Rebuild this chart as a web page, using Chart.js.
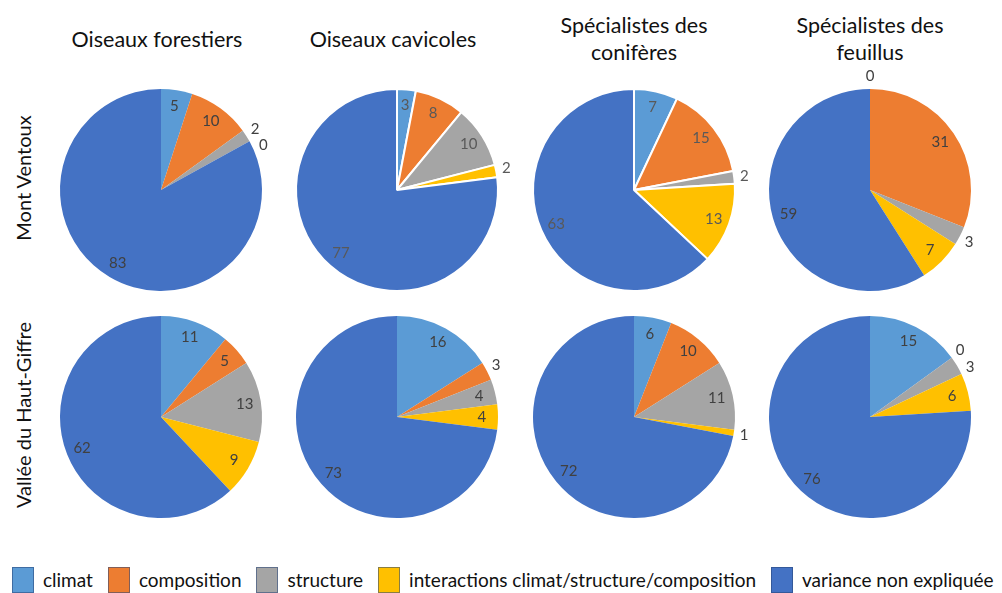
<!DOCTYPE html>
<html lang="fr">
<head>
<meta charset="utf-8">
<title>Part de variance expliquée</title>
<script src="https://cdn.jsdelivr.net/npm/chart.js@4.4.1/dist/chart.umd.min.js"></script>
<style>
  html, body { margin: 0; padding: 0; background: #fff; }
  #board { position: relative; width: 1002px; height: 593px; overflow: hidden; font-family: Lato, "Liberation Sans", sans-serif; color: #111; }
  .pie { position: absolute; }
  .col-title { position: absolute; width: 240px; height: 60px; top: 9px; display: flex; align-items: center; justify-content: center; text-align: center; font-size: 21.5px; line-height: 27px; white-space: pre-line; }
  .row-title { position: absolute; width: 240px; height: 26px; line-height: 26px; text-align: center; font-size: 20px; transform: rotate(-90deg); white-space: nowrap; }
  #legend { position: absolute; left: 12px; top: 567px; display: flex; align-items: flex-start; font-size: 19px; white-space: nowrap; }
  .item { display: flex; align-items: flex-start; margin-right: 15px; }
  .swatch { width: 22px; height: 26px; margin-right: 9px; box-sizing: border-box; border: 1px solid rgba(40, 70, 120, 0.55); }
  .item span { line-height: 26px; }
</style>
</head>
<body>
<div id="board">
  <div id="legend"></div>
</div>
<script>
// Sources of variance (slice order, clockwise from the top)
const categories = ['climat', 'composition', 'structure', 'interactions climat/structure/composition', 'variance non expliquée'];
const colors = ['#5B9BD5', '#ED7D31', '#A5A5A5', '#FFC000', '#4472C4'];

const groups = ['Oiseaux forestiers', 'Oiseaux cavicoles', 'Spécialistes des\nconifères', 'Spécialistes des\nfeuillus'];
const sites = ['Mont Ventoux', 'Vallée du Haut-Giffre'];

// Mont Ventoux
const ventouxForestiers = [5, 10, 2, 0, 83];
const ventouxCavicoles = [3, 8, 10, 2, 77];
const ventouxConiferes = [7, 15, 2, 13, 63];
const ventouxFeuillus = [0, 31, 3, 7, 59];

// Vallée du Haut-Giffre
const giffreForestiers = [11, 5, 13, 9, 62];
const giffreCavicoles = [16, 3, 4, 4, 73];
const giffreConiferes = [6, 10, 11, 1, 72];
const giffreFeuillus = [15, 0, 3, 6, 76];

// grid layout
const colX = [161, 397, 634, 870];
const rowY = [190, 417];
const RADIUS = 101;
const CANVAS = 280;

const panels = [
  { row: 0, col: 0, values: ventouxForestiers, outside: [2, 3], border: false },
  { row: 0, col: 1, values: ventouxCavicoles, outside: [3], border: true },
  { row: 0, col: 2, values: ventouxConiferes, outside: [2], border: true },
  { row: 0, col: 3, values: ventouxFeuillus, outside: [0, 2], border: false },
  { row: 1, col: 0, values: giffreForestiers, outside: [], border: false },
  { row: 1, col: 1, values: giffreCavicoles, outside: [1], border: false },
  { row: 1, col: 2, values: giffreConiferes, outside: [3], border: false },
  { row: 1, col: 3, values: giffreFeuillus, outside: [1, 2], border: false }
];

const board = document.getElementById('board');

// Column headings
groups.forEach((g, i) => {
  const el = document.createElement('div');
  el.className = 'col-title';
  el.style.left = (colX[i] - 120 - (i < 2 ? 4 : 0)) + 'px';
  el.textContent = g;
  board.appendChild(el);
});

// Row headings (rotated)
sites.forEach((s, i) => {
  const el = document.createElement('div');
  el.className = 'row-title';
  el.style.left = (23 - 120) + 'px';
  el.style.top = (rowY[i] - 13 - (i === 0 ? 12 : 2)) + 'px';
  el.textContent = s;
  board.appendChild(el);
});

// Legend
const legend = document.getElementById('legend');
categories.forEach((c, i) => {
  const item = document.createElement('div');
  item.className = 'item';
  const sw = document.createElement('div');
  sw.className = 'swatch';
  sw.style.background = colors[i];
  const txt = document.createElement('span');
  txt.textContent = c;
  item.appendChild(sw);
  item.appendChild(txt);
  legend.appendChild(item);
});

// Value labels: inside the slice, or just outside the rim for thin slices
const sliceLabels = {
  id: 'sliceLabels',
  afterDatasetsDraw(chart, args, opts) {
    const ctx = chart.ctx;
    const meta = chart.getDatasetMeta(0);
    const values = chart.data.datasets[0].data;
    const placed = [];
    ctx.save();
    ctx.font = '15px Lato, "Liberation Sans", sans-serif';
    ctx.fillStyle = opts.color;
    ctx.textAlign = 'center';
    ctx.textBaseline = 'middle';
    meta.data.forEach((arc, i) => {
      const text = String(values[i]);
      const w = ctx.measureText(text).width;
      const h = 14;
      let angle = (arc.startAngle + arc.endAngle) / 2;
      let x, y;
      if (opts.outside.includes(i)) {
        const boxAt = a => {
          const dx = Math.cos(a), dy = Math.sin(a);
          const r = arc.outerRadius + 6;
          return { x: arc.x + dx * r + dx * w / 2, y: arc.y + dy * r + dy * h / 2 };
        };
        let p = boxAt(angle);
        // slide clockwise along the rim until clear of earlier outside labels
        const hits = q => placed.some(b => Math.abs(b.x - q.x) < (b.w + w) / 2 + 3 && Math.abs(b.y - q.y) < (b.h + h) / 2 + 2);
        let guard = 0;
        while (hits(p) && guard < 80) {
          angle += 0.01;
          p = boxAt(angle);
          guard++;
        }
        placed.push({ x: p.x, y: p.y, w, h });
        x = p.x; y = p.y;
      } else {
        const r = arc.outerRadius * 0.84;
        x = arc.x + Math.cos(angle) * r;
        y = arc.y + Math.sin(angle) * r;
      }
      ctx.fillText(text, x, y);
    });
    ctx.restore();
  }
};

panels.forEach(p => {
  const canvas = document.createElement('canvas');
  canvas.className = 'pie';
  canvas.width = CANVAS;
  canvas.height = CANVAS;
  canvas.style.width = CANVAS + 'px';
  canvas.style.height = CANVAS + 'px';
  canvas.style.left = (colX[p.col] - CANVAS / 2) + 'px';
  canvas.style.top = (rowY[p.row] - CANVAS / 2) + 'px';
  board.appendChild(canvas);

  new Chart(canvas.getContext('2d'), {
    type: 'pie',
    data: {
      labels: categories,
      datasets: [{
        data: p.values,
        backgroundColor: colors,
        borderColor: '#ffffff',
        borderWidth: p.border ? 2 : 0
      }]
    },
    options: {
      responsive: false,
      animation: false,
      radius: RADIUS,
      layout: { padding: 0 },
      events: [],
      plugins: {
        legend: { display: false },
        tooltip: { enabled: false },
        sliceLabels: { outside: p.outside, color: p.border ? '#595959' : '#404040' }
      }
    },
    plugins: [sliceLabels]
  });
});
</script>
</body>
</html>
